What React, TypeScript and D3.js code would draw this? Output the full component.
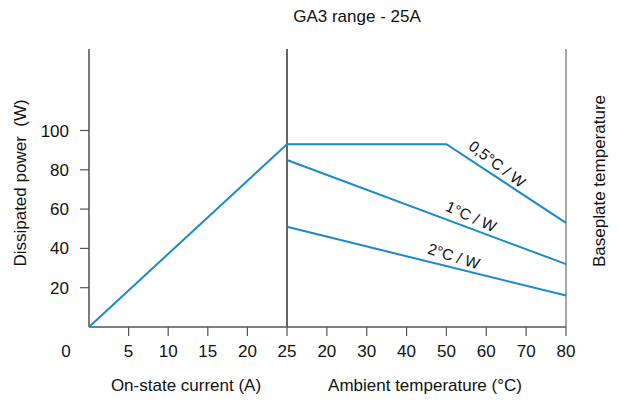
import React from "react";
import * as d3 from "d3";

// ---- data ----
const currentTicks = [5, 10, 15, 20, 25];
const ambientTicks = [20, 30, 40, 50, 60, 70, 80];
const powerTicks = [20, 40, 60, 80, 100];

const currentA = [0, 25];
const currentPower = [0, 93];

const ambientHalf = [10, 50, 80];
const powerHalf = [93, 93, 53];
const ambientOne = [10, 80];
const powerOne = [85, 32];
const ambientTwo = [10, 80];
const powerTwo = [51, 16];

const curveLabels = ["0,5°C / W", "1°C / W", "2°C / W"];
const labelAmbient = [61.0, 55.0, 51.0];

const title = "GA3 range - 25A";
const yTitle = "Dissipated power  (W)";
const y2Title = "Baseplate temperature";
const xTitle1 = "On-state current (A)";
const xTitle2 = "Ambient temperature (°C)";

// ---- layout ----
const W = 618;
const H = 401;
const left = 89;
const mid = 287;
const right = 566;
const top = 49;
const bottom = 327;
const blue = "#1a8bc9";
const font = "Liberation Sans, Arial, Helvetica, sans-serif";

export default function App() {
  const xCur = d3.scaleLinear().domain([0, 25]).range([left, mid]);
  const xAmb = d3.scaleLinear().domain([10, 80]).range([mid, right]);
  const y = d3.scaleLinear().domain([0, 100]).range([bottom, 130.5]);

  const lineCur = d3
    .line<number>()
    .x((_, i) => xCur(currentA[i]))
    .y((d) => y(d));
  const lineAmb = (xs: number[]) =>
    d3
      .line<number>()
      .x((_, i) => xAmb(xs[i]))
      .y((d) => y(d));

  const series = [
    { xs: ambientHalf, ys: powerHalf },
    { xs: ambientOne, ys: powerOne },
    { xs: ambientTwo, ys: powerTwo },
  ];

  const labelPlacement = (k: number) => {
    const { xs, ys } = series[k];
    const t = labelAmbient[k];
    let i = 0;
    while (i < xs.length - 2 && t > xs[i + 1]) i++;
    const x0 = xAmb(xs[i]);
    const y0 = y(ys[i]);
    const x1 = xAmb(xs[i + 1]);
    const y1 = y(ys[i + 1]);
    const f = (t - xs[i]) / (xs[i + 1] - xs[i]);
    const px = x0 + (x1 - x0) * f;
    const py = y0 + (y1 - y0) * f;
    const ang = (Math.atan2(y1 - y0, x1 - x0) * 180) / Math.PI;
    return { px, py, ang };
  };

  const tickFont = 17;

  return (
    <svg width={W} height={H} style={{ position: "absolute", left: 0, top: 0, background: "#fff" }}>
      <rect x={0} y={0} width={W} height={H} fill="#fff" />
      <text x={357} y={22} textAnchor="middle" fontFamily={font} fontSize={17} fill="#111">
        {title}
      </text>

      {/* axes */}
      <line x1={left} x2={left} y1={top} y2={bottom} stroke="#333" strokeWidth={1.3} />
      <line x1={mid} x2={mid} y1={top} y2={bottom} stroke="#111" strokeWidth={1.3} />
      <line x1={right} x2={right} y1={top} y2={bottom} stroke="#888" strokeWidth={1.5} />
      <line x1={left} x2={right} y1={bottom} y2={bottom} stroke="#555" strokeWidth={1.3} />

      {/* y ticks */}
      {powerTicks.map((v) => (
        <g key={"yt" + v}>
          <line x1={left - 9} x2={left} y1={y(v)} y2={y(v)} stroke="#555" strokeWidth={1.2} />
          <text x={69} y={y(v) + 6} textAnchor="end" fontFamily={font} fontSize={tickFont} fill="#111">
            {v}
          </text>
        </g>
      ))}

      {/* x ticks */}
      {currentTicks.map((v) => (
        <g key={"xc" + v}>
          <line x1={xCur(v)} x2={xCur(v)} y1={bottom} y2={bottom + 9} stroke="#555" strokeWidth={1.2} />
          <text x={xCur(v)} y={357} textAnchor="middle" fontFamily={font} fontSize={tickFont} fill="#111">
            {v}
          </text>
        </g>
      ))}
      {ambientTicks.map((v) => (
        <g key={"xa" + v}>
          <line x1={xAmb(v)} x2={xAmb(v)} y1={bottom} y2={bottom + 9} stroke="#555" strokeWidth={1.2} />
          <text x={xAmb(v)} y={357} textAnchor="middle" fontFamily={font} fontSize={tickFont} fill="#111">
            {v}
          </text>
        </g>
      ))}
      <text x={66} y={357} textAnchor="middle" fontFamily={font} fontSize={tickFont} fill="#111">
        0
      </text>

      {/* axis titles */}
      <text x={186} y={391} textAnchor="middle" fontFamily={font} fontSize={17} fill="#111">
        {xTitle1}
      </text>
      <text x={425} y={391} textAnchor="middle" fontFamily={font} fontSize={17} fill="#111">
        {xTitle2}
      </text>
      <text
        transform={`translate(26,183) rotate(-90)`}
        textAnchor="middle"
        fontFamily={font}
        fontSize={17}
        fill="#111"
        xmlSpace="preserve"
      >
        {yTitle}
      </text>
      <text
        transform={`translate(605,181) rotate(-90)`}
        textAnchor="middle"
        fontFamily={font}
        fontSize={17}
        fill="#111"
      >
        {y2Title}
      </text>

      {/* data lines */}
      <path d={lineCur(currentPower) || ""} fill="none" stroke={blue} strokeWidth={2} />
      {series.map((s, k) => (
        <path key={"s" + k} d={lineAmb(s.xs)(s.ys) || ""} fill="none" stroke={blue} strokeWidth={2} />
      ))}

      {/* curve labels */}
      {curveLabels.map((lab, k) => {
        const { px, py, ang } = labelPlacement(k);
        return (
          <text
            key={"l" + k}
            transform={`translate(${px},${py}) rotate(${ang + 4})`}
            y={-6}
            textAnchor="middle"
            fontFamily={font}
            fontSize={15.5}
            fill="#111"
          >
            {lab}
          </text>
        );
      })}
    </svg>
  );
}
